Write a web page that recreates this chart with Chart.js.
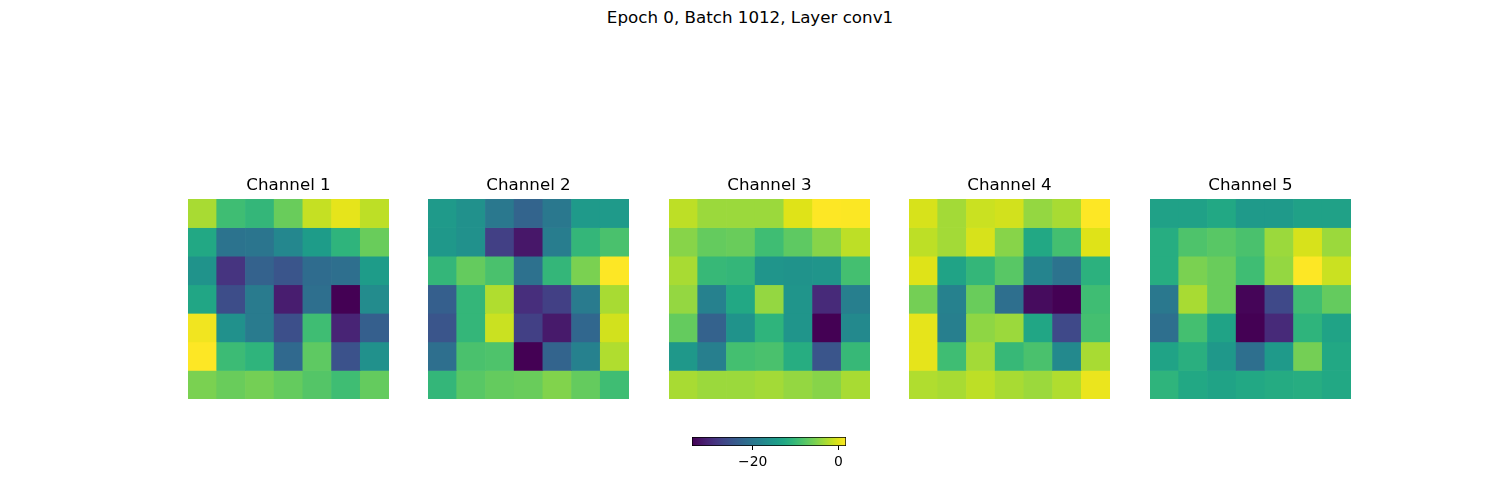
<!DOCTYPE html>
<html>
<head>
<meta charset="utf-8">
<script src="https://cdn.jsdelivr.net/npm/chart.js@4.4.1/dist/chart.umd.min.js"></script>
<style>
  body { margin: 0; background: #fff; width: 1500px; height: 500px; position: relative; overflow: hidden; font-family: "DejaVu Sans", sans-serif; }
  .sup { position: absolute; top: 7px; left: 0; width: 1500px; text-align: center; font-size: 16.7px; color: #000; }
  canvas { position: absolute; }
</style>
</head>
<body>
<div class="sup">Epoch 0, Batch 1012, Layer conv1</div>
<canvas id="ch0" width="201" height="229"></canvas>
<canvas id="ch1" width="201" height="229"></canvas>
<canvas id="ch2" width="201" height="229"></canvas>
<canvas id="ch3" width="201" height="229"></canvas>
<canvas id="ch4" width="201" height="229"></canvas>
<canvas id="cbar" width="174" height="50"></canvas>
<script>
// 7x7 activation maps, read row by row (top row first)
const columns = ['0', '1', '2', '3', '4', '5', '6'];
const channelTitles = ['Channel 1', 'Channel 2', 'Channel 3', 'Channel 4', 'Channel 5'];

const channel1 = [
  [-2.9, -9.4, -10.4, -6.5, -1.4, 0.4, -1.8],
  [-12.6, -20.5, -20.2, -17.6, -14.4, -10.8, -6.5],
  [-15.8, -28.8, -23.0, -24.8, -21.6, -21.2, -14.4],
  [-12.9, -25.9, -19.4, -31.3, -21.2, -34.2, -16.9],
  [1.1, -16.2, -19.4, -25.6, -9.4, -30.6, -23.4],
  [1.8, -9.7, -10.8, -22.0, -7.2, -25.2, -16.2],
  [-5.4, -6.5, -5.8, -6.8, -7.9, -9.4, -6.8]
];
const channel2 = [
  [-14.8, -16.2, -19.8, -22.7, -19.8, -14.8, -14.8],
  [-15.1, -16.2, -27.4, -32.0, -19.1, -10.4, -8.6],
  [-10.4, -6.8, -8.6, -20.9, -10.4, -5.4, 1.8],
  [-23.4, -10.4, -2.5, -29.5, -27.4, -19.4, -2.9],
  [-24.8, -10.4, -1.1, -27.4, -31.7, -22.3, -0.7],
  [-21.2, -8.6, -8.3, -34.2, -22.7, -18.4, -2.5],
  [-10.4, -7.6, -6.8, -6.5, -5.0, -6.8, -9.4]
];
const channel3 = [
  [-1.8, -3.6, -3.6, -3.6, 0.0, 1.8, 1.7],
  [-4.7, -6.8, -6.5, -9.4, -7.2, -4.7, -1.8],
  [-2.9, -10.1, -10.4, -15.5, -15.8, -15.5, -9.0],
  [-4.0, -18.4, -12.6, -4.0, -15.5, -29.9, -18.7],
  [-6.8, -23.0, -15.8, -10.8, -15.5, -34.2, -17.3],
  [-15.1, -18.7, -9.0, -8.6, -11.9, -24.8, -10.1],
  [-2.9, -3.6, -3.6, -3.2, -4.0, -4.7, -2.9]
];
const channel4 = [
  [-0.4, -3.2, -1.1, -0.7, -4.0, -2.9, 1.8],
  [-1.8, -3.2, -0.4, -4.7, -12.6, -9.0, 0.0],
  [0.0, -13.3, -10.4, -7.6, -18.0, -20.5, -11.2],
  [-5.8, -18.4, -6.5, -21.2, -33.1, -34.2, -9.4],
  [0.4, -18.7, -4.3, -3.6, -12.9, -26.3, -9.0],
  [0.4, -9.4, -3.2, -10.1, -8.6, -17.3, -2.9],
  [-2.5, -2.9, -1.8, -2.9, -3.6, -2.5, 0.7]
];
const channel5 = [
  [-13.7, -13.7, -12.6, -14.8, -14.8, -13.7, -13.7],
  [-11.9, -8.3, -7.6, -8.6, -3.6, -0.4, -3.6],
  [-11.9, -5.4, -6.5, -9.4, -4.0, 1.8, -1.1],
  [-19.8, -2.9, -6.5, -33.8, -26.3, -9.4, -6.8],
  [-21.2, -9.0, -13.3, -34.2, -29.9, -10.8, -13.3],
  [-13.3, -11.5, -15.1, -21.2, -14.8, -5.8, -12.6],
  [-10.8, -12.6, -13.3, -12.6, -12.2, -11.9, -12.6]
];
const channels = [channel1, channel2, channel3, channel4, channel5];

// colour limits and colorbar ticks
const vmin = -34.2;
const vmax = 1.8;
const colorbarTicks = [-20, 0];

// viridis, sampled every 0.05
const viridisStops = ['#440154', '#471365', '#482475', '#463480', '#414487', '#3b528b', '#355f8d',
  '#2f6c8e', '#2a788e', '#25848e', '#21918c', '#1e9c89', '#22a884', '#2fb47c', '#44bf70',
  '#5ec962', '#7ad151', '#9bd93c', '#bddf26', '#dfe318', '#fde725'];

function hexToRgb(h) {
  return [parseInt(h.slice(1, 3), 16), parseInt(h.slice(3, 5), 16), parseInt(h.slice(5, 7), 16)];
}

function viridis(t) {
  t = Math.max(0, Math.min(1, t));
  const n = viridisStops.length - 1;
  const i = Math.min(Math.floor(t * n), n - 1);
  const f = t * n - i;
  const a = hexToRgb(viridisStops[i]), b = hexToRgb(viridisStops[i + 1]);
  const c = a.map((v, k) => Math.round(v + (b[k] - v) * f));
  return 'rgb(' + c.join(',') + ')';
}

const fontFamily = 'DejaVu Sans';
Chart.defaults.font.family = fontFamily;
Chart.defaults.color = '#000';

function drawChannel(canvas, title, grid, left) {
  canvas.style.left = left + 'px';
  canvas.style.top = '170px';
  const datasets = grid.map((row, r) => {
    const colors = row.map(v => viridis((v - vmin) / (vmax - vmin)));
    return {
      data: row.map(() => [r, r + 1]),
      backgroundColor: colors,
      borderColor: colors,
      borderWidth: 0,
      borderSkipped: false,
      grouped: false,
      barPercentage: 1,
      categoryPercentage: 1
    };
  });
  new Chart(canvas, {
    type: 'bar',
    data: { labels: columns, datasets: datasets },
    options: {
      responsive: false,
      animation: false,
      layout: { padding: 0 },
      plugins: {
        legend: { display: false },
        tooltip: { enabled: false },
        title: {
          display: true,
          text: title,
          color: '#000',
          font: { family: fontFamily, size: 16.7, weight: 'normal' },
          padding: { top: 6, bottom: 3 }
        }
      },
      scales: {
        x: { display: false },
        y: { display: false, min: 0, max: 7, reverse: true }
      }
    }
  });
}

channels.forEach((grid, i) => {
  drawChannel(document.getElementById('ch' + i), channelTitles[i], grid, Math.floor(188 + i * 240.5));
});

// colorbar
const cbar = document.getElementById('cbar');
cbar.style.left = '682px';
cbar.style.top = '432px';
new Chart(cbar, {
  type: 'bar',
  data: {
    labels: [''],
    datasets: [{
      data: [[vmin, vmax]],
      backgroundColor: (ctx) => {
        const area = ctx.chart.chartArea;
        if (!area) return '#21918c';
        const g = ctx.chart.ctx.createLinearGradient(area.left, 0, area.right, 0);
        viridisStops.forEach((c, k) => g.addColorStop(k / (viridisStops.length - 1), c));
        return g;
      },
      borderColor: '#000',
      borderWidth: 1,
      borderSkipped: false,
      barPercentage: 1,
      categoryPercentage: 1
    }]
  },
  options: {
    indexAxis: 'y',
    responsive: false,
    animation: false,
    layout: { padding: { left: 10, right: 10, top: 5, bottom: 0 } },
    plugins: { legend: { display: false }, tooltip: { enabled: false } },
    scales: {
      x: {
        min: vmin,
        max: vmax,
        afterBuildTicks: (scale) => { scale.ticks = colorbarTicks.map(v => ({ value: v })); },
        afterFit: (scale) => { scale.height = 36; },
        ticks: {
          color: '#000',
          font: { family: fontFamily, size: 13.9 },
          maxRotation: 0,
          padding: 4,
          callback: (v) => v < 0 ? '\u2212' + Math.abs(v) : String(v)
        },
        grid: { drawOnChartArea: false, drawTicks: true, tickLength: 4, tickColor: '#000' },
        border: { display: false }
      },
      y: { display: false }
    }
  }
});
</script>
</body>
</html>
